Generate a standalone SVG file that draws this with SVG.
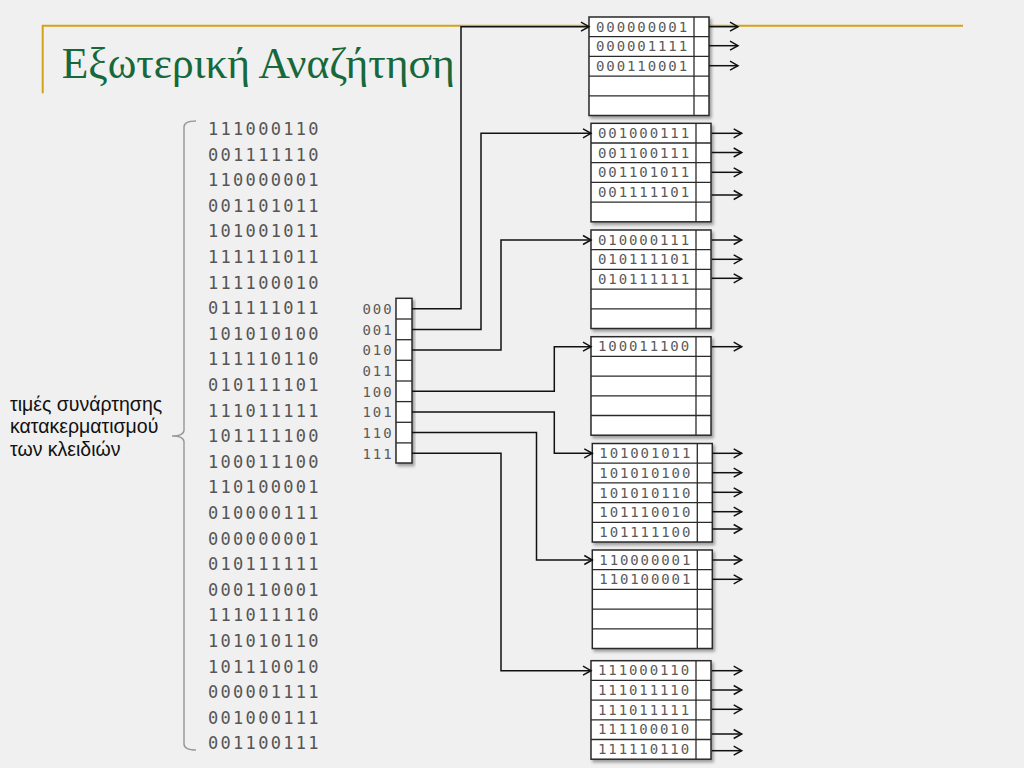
<svg xmlns="http://www.w3.org/2000/svg" width="1024" height="768" viewBox="0 0 1024 768">
<defs>
<style>
.bg{fill:#f0f0f0}
.gold{stroke:#d4a21a;stroke-width:2;fill:none}
.title{font-family:"Liberation Serif","Times New Roman",serif;font-size:43.5px;fill:#17683a}
.key{font-family:"DejaVu Sans Mono",monospace;font-size:17px;letter-spacing:2.3px;fill:#555}
.lbl{font-family:"Liberation Sans",Arial,sans-serif;font-size:19.5px;fill:#111}
.brace{stroke:#9a9a9a;stroke-width:1.5;fill:none}
.cell{font-family:"DejaVu Sans Mono",monospace;font-size:14px;letter-spacing:1.9px;fill:#5a5a5a}
.box{fill:#fff;stroke:#2a2a2a;stroke-width:1.5}
.ln{stroke:#2a2a2a;stroke-width:1.3}
.con{fill:none;stroke:#111;stroke-width:1.5;marker-end:url(#arr)}
</style>
<marker id="arr" markerWidth="12" markerHeight="12" refX="10" refY="6" orient="auto" markerUnits="userSpaceOnUse">
<path d="M2,1.5 L10,6 L2,10.5" fill="none" stroke="#111" stroke-width="1.5"/>
</marker>
<filter id="sh" x="-10%" y="-10%" width="130%" height="130%">
<feDropShadow dx="2" dy="2.5" stdDeviation="1.5" flood-color="#000" flood-opacity="0.35"/>
</filter>
<g id="bk">
<rect class="box" x="0" y="0" width="120" height="98.5" filter="url(#sh)"/>
<line class="ln" x1="105" y1="0" x2="105" y2="98.5"/>
<line class="ln" x1="0" y1="19.7" x2="120" y2="19.7"/>
<line class="ln" x1="0" y1="39.4" x2="120" y2="39.4"/>
<line class="ln" x1="0" y1="59.1" x2="120" y2="59.1"/>
<line class="ln" x1="0" y1="78.8" x2="120" y2="78.8"/>
</g>
</defs>
<rect class="bg" x="0" y="0" width="1024" height="768"/>

<g id="header">
<path class="gold" d="M42.7,93.3 V25.7 H963"/>
<text class="title" x="61.7" y="78.3">Εξωτερική Αναζήτηση</text>
</g>

<g id="keys">
<path class="brace" d="M196,121 Q184,121 184,127 V430 Q184,436 172,436 Q184,436 184,442 V744 Q184,750 196,750"/>
<text class="key" x="208" y="135">
<tspan x="208" dy="0">111000110</tspan>
<tspan x="208" dy="25.6">001111110</tspan>
<tspan x="208" dy="25.6">110000001</tspan>
<tspan x="208" dy="25.6">001101011</tspan>
<tspan x="208" dy="25.6">101001011</tspan>
<tspan x="208" dy="25.6">111111011</tspan>
<tspan x="208" dy="25.6">111100010</tspan>
<tspan x="208" dy="25.6">011111011</tspan>
<tspan x="208" dy="25.6">101010100</tspan>
<tspan x="208" dy="25.6">111110110</tspan>
<tspan x="208" dy="25.6">010111101</tspan>
<tspan x="208" dy="25.6">111011111</tspan>
<tspan x="208" dy="25.6">101111100</tspan>
<tspan x="208" dy="25.6">100011100</tspan>
<tspan x="208" dy="25.6">110100001</tspan>
<tspan x="208" dy="25.6">010000111</tspan>
<tspan x="208" dy="25.6">000000001</tspan>
<tspan x="208" dy="25.6">010111111</tspan>
<tspan x="208" dy="25.6">000110001</tspan>
<tspan x="208" dy="25.6">111011110</tspan>
<tspan x="208" dy="25.6">101010110</tspan>
<tspan x="208" dy="25.6">101110010</tspan>
<tspan x="208" dy="25.6">000001111</tspan>
<tspan x="208" dy="25.6">001000111</tspan>
<tspan x="208" dy="25.6">001100111</tspan>
</text>
</g>

<g id="label">
<text class="lbl" x="10" y="411">τιμές συνάρτησης</text>
<text class="lbl" x="10" y="433">κατακερματισμού</text>
<text class="lbl" x="10" y="456">των κλειδιών</text>
</g>

<g id="directory">
<rect class="box" x="396" y="298.3" width="16" height="164.7" filter="url(#sh)"/>
<line class="ln" x1="396" y1="319" x2="412" y2="319"/>
<line class="ln" x1="396" y1="339.7" x2="412" y2="339.7"/>
<line class="ln" x1="396" y1="360.3" x2="412" y2="360.3"/>
<line class="ln" x1="396" y1="381" x2="412" y2="381"/>
<line class="ln" x1="396" y1="401.6" x2="412" y2="401.6"/>
<line class="ln" x1="396" y1="422.3" x2="412" y2="422.3"/>
<line class="ln" x1="396" y1="442.9" x2="412" y2="442.9"/>
<text class="cell" x="362.5" y="314">000</text>
<text class="cell" x="362.5" y="334.7">001</text>
<text class="cell" x="362.5" y="355.3">010</text>
<text class="cell" x="362.5" y="376">011</text>
<text class="cell" x="362.5" y="396.6">100</text>
<text class="cell" x="362.5" y="417.3">101</text>
<text class="cell" x="362.5" y="437.9">110</text>
<text class="cell" x="362.5" y="458.6">111</text>
</g>

<g id="bucket1" transform="translate(589,17)">
<use href="#bk"/>
<text class="cell" x="7" y="14.6">000000001</text>
<text class="cell" x="7" y="34.3">000001111</text>
<text class="cell" x="7" y="54">000110001</text>
</g>
<g id="bucket2" transform="translate(591,123.3)">
<use href="#bk"/>
<text class="cell" x="7" y="14.6">001000111</text>
<text class="cell" x="7" y="34.3">001100111</text>
<text class="cell" x="7" y="54">001101011</text>
<text class="cell" x="7" y="73.7">001111101</text>
</g>
<g id="bucket3" transform="translate(591,230)">
<use href="#bk"/>
<text class="cell" x="7" y="14.6">010000111</text>
<text class="cell" x="7" y="34.3">010111101</text>
<text class="cell" x="7" y="54">010111111</text>
</g>
<g id="bucket4" transform="translate(591,336.7)">
<use href="#bk"/>
<text class="cell" x="7" y="14.6">100011100</text>
</g>
<g id="bucket5" transform="translate(592.3,443.5)">
<use href="#bk"/>
<text class="cell" x="7" y="14.6">101001011</text>
<text class="cell" x="7" y="34.3">101010100</text>
<text class="cell" x="7" y="54">101010110</text>
<text class="cell" x="7" y="73.7">101110010</text>
<text class="cell" x="7" y="93.4">101111100</text>
</g>
<g id="bucket6" transform="translate(592.3,550)">
<use href="#bk"/>
<text class="cell" x="7" y="14.6">110000001</text>
<text class="cell" x="7" y="34.3">110100001</text>
</g>
<g id="bucket7" transform="translate(591,660.7)">
<use href="#bk"/>
<text class="cell" x="7" y="14.6">111000110</text>
<text class="cell" x="7" y="34.3">111011110</text>
<text class="cell" x="7" y="54">111011111</text>
<text class="cell" x="7" y="73.7">111100010</text>
<text class="cell" x="7" y="93.4">111110110</text>
</g>

<g id="connectors">
<path class="con" d="M412,308.7 H461 V26.7 H589"/>
<path class="con" d="M412,329.4 H481 V133.3 H591"/>
<path class="con" d="M412,350 H501 V240 H591"/>
<path class="con" d="M412,391.3 H554.3 V346.7 H591"/>
<path class="con" d="M412,412 H554.3 V453.3 H592.3"/>
<path class="con" d="M412,432.6 H536.5 V560 H592.3"/>
<path class="con" d="M412,453.3 H501 V670.7 H591"/>

<path class="con" d="M709,26.7 H738"/>
<path class="con" d="M709,45.7 H738"/>
<path class="con" d="M709,65.7 H738"/>
<path class="con" d="M711.7,133.3 H741.7"/>
<path class="con" d="M711.7,152.5 H741.7"/>
<path class="con" d="M711.7,172.3 H741.7"/>
<path class="con" d="M711.7,195 H741.7"/>
<path class="con" d="M711.7,240 H741.7"/>
<path class="con" d="M711.7,259.3 H741.7"/>
<path class="con" d="M711.7,278.3 H741.7"/>
<path class="con" d="M711.7,346.7 H741.7"/>
<path class="con" d="M712.3,453.3 H741.7"/>
<path class="con" d="M712.3,472.7 H741.7"/>
<path class="con" d="M712.3,492.3 H741.7"/>
<path class="con" d="M712.3,511.7 H741.7"/>
<path class="con" d="M712.3,529 H741.7"/>
<path class="con" d="M712.3,560 H741.7"/>
<path class="con" d="M712.3,579.3 H741.7"/>
<path class="con" d="M711.7,670.7 H741.7"/>
<path class="con" d="M711.7,690 H741.7"/>
<path class="con" d="M711.7,709.3 H741.7"/>
<path class="con" d="M711.7,734 H741.7"/>
<path class="con" d="M711.7,750.7 H741.7"/>
</g>
</svg>
